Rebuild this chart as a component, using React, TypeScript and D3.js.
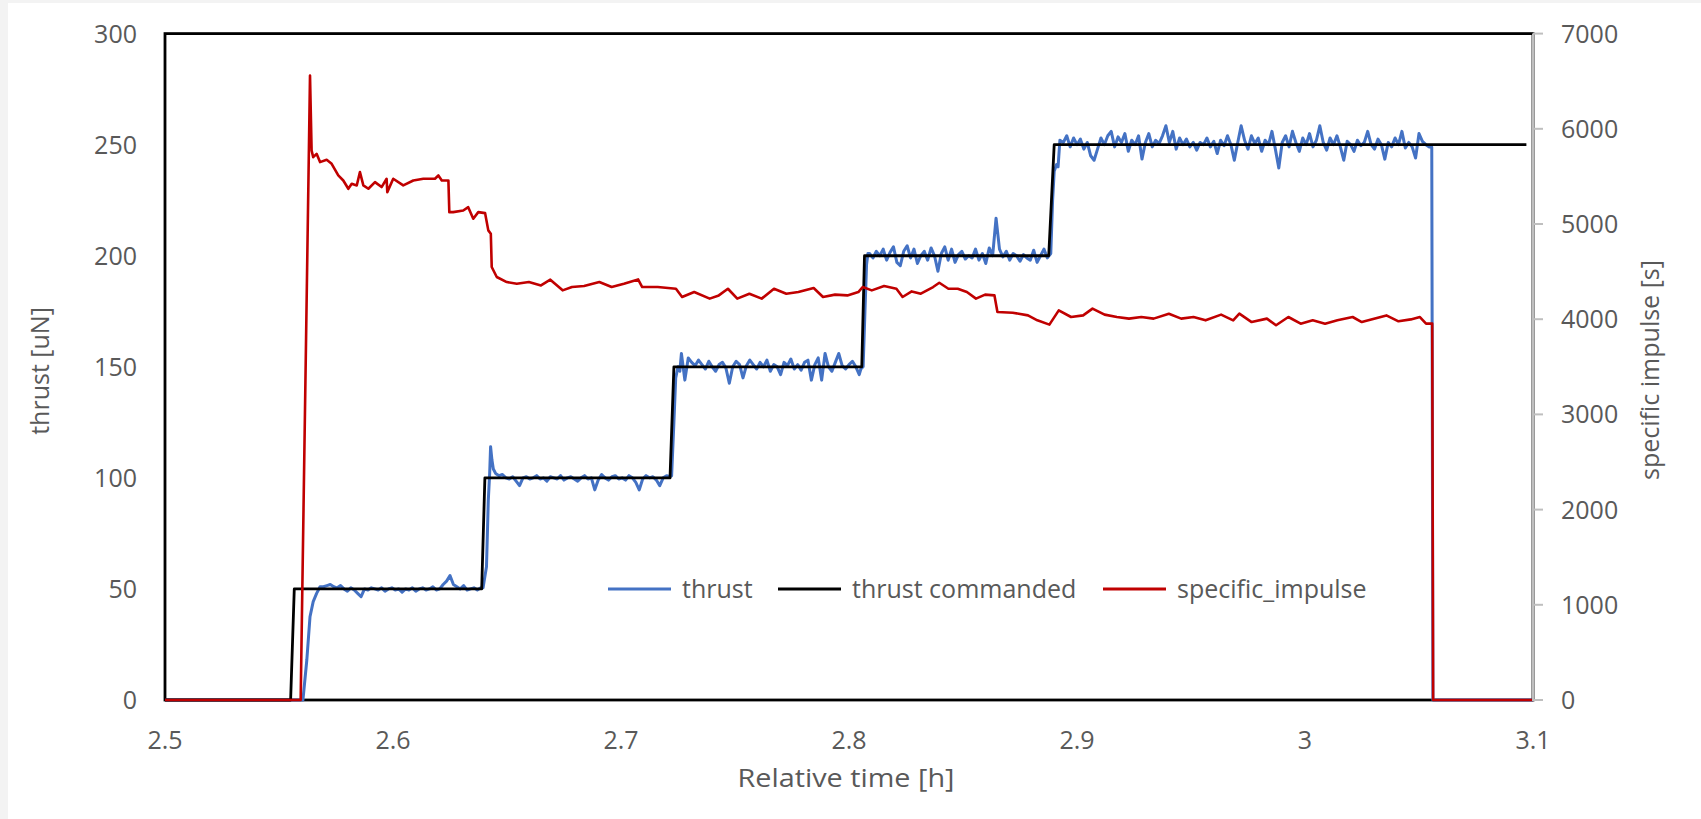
import React, { useRef, useEffect } from "react";
import * as d3 from "d3";

// axis ticks
const timeTicks = [2.5, 2.6, 2.7, 2.8, 2.9, 3, 3.1];
const thrustTicks = [0, 50, 100, 150, 200, 250, 300];
const ispTicks = [0, 1000, 2000, 3000, 4000, 5000, 6000, 7000];

// logger writes one thrust reading every SAMPLE_DT hours on the plateaus
const SAMPLE_DT = 0.0015;

// thrust commanded [h, uN]
const thrustCommanded: [number, number][] = [
  [2.5, 0], [2.5551, 0], [2.5567, 50], [2.6389, 50], [2.6403, 100], [2.7215, 100],
  [2.7232, 150], [2.8056, 150], [2.8068, 200], [2.8876, 200], [2.89, 250], [3.0971, 250],
];

// measured thrust - transitions as [h, uN]
const thrustStartup: [number, number][] = [
  [2.5, 0], [2.5605, 0], [2.5622, 18], [2.5636, 37.5], [2.565, 44.3], [2.5665, 48], [2.568, 51],
];
const thrustStep100: [number, number][] = [
  [2.6395, 50.5], [2.641, 60], [2.6418, 90], [2.6424, 102], [2.6428, 114], [2.6434, 108], [2.644, 104],
];
const thrustStep150: [number, number][] = [
  [2.7222, 101], [2.7232, 125], [2.724, 145], [2.725, 150], [2.7258, 148],
];
const thrustStep200: [number, number][] = [
  [2.8052, 149], [2.8062, 150], [2.807, 175], [2.8077, 196], [2.8083, 201],
];
const thrustStep250: [number, number][] = [
  [2.8885, 201], [2.8893, 225], [2.89, 238], [2.891, 241], [2.8917, 240],
];
const thrustShutdown: [number, number][] = [[3.0556, 249], [3.0561, 0], [3.1, 0]];

// measured thrust - plateau readings
const thrust50Start = 2.5695;
const thrust50 = [
  51, 51.5, 52, 51, 50.5, 51.5, 50, 49, 50.5, 49.5, 48, 46.5, 50, 49.5, 50.5, 50, 49.5, 50.5, 49, 50,
  50.5, 49.5, 50, 48.5, 50, 49.5, 50.5, 49, 50, 50.5, 49.5, 50, 51, 49.5, 50, 52, 53.5, 56, 52, 51,
  50, 51.5, 49.5, 50, 50.5, 49.5, 50.5,
];
const thrust100Start = 2.645;
const thrust100 = [
  102, 101, 101.5, 100, 99.5, 100.5, 98.5, 96.5, 100, 100.5, 99.5, 100, 101, 99.5, 100, 98.5, 100.5, 100,
  99.5, 101, 99, 100, 100.5, 99.5, 98.5, 100, 101, 99.5, 100, 94.6, 99, 101.5, 100, 99, 100.5, 101, 99.5,
  100, 99, 101, 100, 98, 94.6, 99.5, 101, 100, 100.5, 99, 96.5, 100, 101, 100.5,
];
const thrust150Start = 2.7265;
const thrust150 = [
  156, 144, 154, 152, 150.5, 153, 151, 149, 152.5, 150, 148, 151, 152, 149.5, 142.6, 150, 152.5, 151,
  145, 150.5, 153, 151, 149, 152, 150, 153, 148, 151, 150, 146.5, 152, 150.5, 153.5, 149, 151, 148.5,
  152, 153, 144, 151, 154, 144, 156, 150, 148, 152, 156, 150.5, 149, 151, 152.5, 150, 146.5,
];
const thrust200Start = 2.809;
const thrust200 = [
  201, 199, 202, 200, 203, 198, 201.5, 204, 197, 195.5, 202, 204.5, 199, 203, 196.5, 200, 202, 198,
  203.5, 200, 193, 201, 204, 198, 203, 197, 200.5, 202, 198.5, 200, 199, 203, 198, 201, 196.5, 203.5,
  200, 216.9, 203, 199.5, 202, 198, 201, 200, 197.5, 200.5, 199, 198, 202.5, 197, 200, 203, 199,
];
const thrust250Start = 2.8925;
const thrust250 = [
  252, 251, 254, 249, 253, 250, 252.5, 248, 251, 245, 243, 248, 253, 250, 254, 256, 249, 253.5, 251,
  255, 247, 252, 250, 254, 243.5, 251, 255, 249, 252, 250.5, 254, 258.5, 251, 256, 248, 253, 250,
  252.5, 249, 251, 247.5, 251, 250, 253, 249, 251.5, 246, 252, 249.5, 254, 250, 243, 251, 258.5, 252,
  248, 254, 250.5, 253, 247, 252, 250, 256, 248, 239.5, 251, 254, 249, 256, 251, 247, 253, 250, 255,
  249, 252, 258.5, 251, 247.5, 253, 250, 254, 249, 243, 251.5, 250, 247, 252, 249.5, 251, 256, 250,
  248, 252.5, 250, 243.5, 251, 249, 253, 250, 256, 248.5, 251, 249, 244, 255, 251.5, 250, 249,
];

// specific impulse [h, s]
const specificImpulse: [number, number][] = [
  [2.5, 0], [2.5595, 0], [2.5636, 6560], [2.5643, 5772], [2.565, 5702], [2.5665, 5737], [2.568, 5650],
  [2.5709, 5674], [2.5731, 5632], [2.576, 5510], [2.5782, 5457], [2.5804, 5370], [2.5819, 5422],
  [2.5841, 5405], [2.5855, 5545], [2.587, 5405], [2.5892, 5370], [2.5921, 5440], [2.595, 5388],
  [2.5972, 5475], [2.5975, 5335], [2.6001, 5475], [2.6045, 5405], [2.6089, 5457], [2.6133, 5475],
  [2.6184, 5475], [2.6199, 5510], [2.6214, 5457], [2.6243, 5457], [2.6247, 5125], [2.6264, 5125],
  [2.6308, 5142], [2.633, 5177], [2.6352, 5055], [2.6374, 5125], [2.6404, 5114], [2.6418, 4933],
  [2.6429, 4898], [2.6433, 4548], [2.6455, 4443], [2.6499, 4390], [2.6543, 4373], [2.6596, 4390],
  [2.6649, 4355], [2.669, 4415], [2.6744, 4303], [2.6785, 4338], [2.6838, 4348], [2.6905, 4390],
  [2.6959, 4338], [2.7013, 4373], [2.7075, 4418], [2.7093, 4338], [2.7161, 4338], [2.7241, 4320],
  [2.7268, 4233], [2.7321, 4285], [2.7389, 4216], [2.7429, 4250], [2.7469, 4320], [2.751, 4216],
  [2.7563, 4268], [2.7617, 4216], [2.7671, 4320], [2.7725, 4268], [2.7778, 4285], [2.7845, 4328],
  [2.7886, 4233], [2.7939, 4258], [2.7993, 4250], [2.8041, 4285], [2.806, 4338], [2.81, 4303],
  [2.8154, 4348], [2.8208, 4320], [2.8235, 4233], [2.8275, 4292], [2.8315, 4268], [2.8369, 4338],
  [2.8396, 4383], [2.8436, 4320], [2.8477, 4320], [2.8517, 4285], [2.8557, 4216], [2.8597, 4258],
  [2.8638, 4250], [2.8651, 4075], [2.8718, 4068], [2.8785, 4040], [2.8826, 3988], [2.8879, 3943],
  [2.892, 4093], [2.8974, 4023], [2.9027, 4040], [2.9068, 4111], [2.9121, 4048], [2.9175, 4023],
  [2.9228, 4006], [2.9282, 4023], [2.9336, 4006], [2.9403, 4058], [2.9457, 4006], [2.9511, 4023],
  [2.9564, 3988], [2.9632, 4048], [2.9685, 3988], [2.9712, 4058], [2.9766, 3970], [2.9833, 4006],
  [2.9873, 3936], [2.9927, 4023], [2.9981, 3953], [3.0034, 3988], [3.0088, 3953], [3.0142, 3988],
  [3.0209, 4023], [3.0249, 3970], [3.0303, 4006], [3.0357, 4040], [3.041, 3978], [3.0464, 3998],
  [3.0504, 4023], [3.0531, 3953], [3.0558, 3953], [3.0562, 0], [3.1, 0],
];

const legendItems = [
  { name: "thrust", color: "#4472C4" },
  { name: "thrust commanded", color: "#000000" },
  { name: "specific_impulse", color: "#C00000" },
];

function ThrustChart() {
  const svgRef = useRef<SVGSVGElement>(null);

  useEffect(() => {
    const width = 1701;
    const height = 819;
    const left = 165, right = 1533, top = 33.6, bottom = 700;
    const textColor = "#595959";
    const font = "'Open Sans', sans-serif";
    const fontSize = 25;

    // plateau readings -> [h, uN]
    const sampled = (t0: number, vals: number[]) =>
      vals.map((v, i) => [t0 + i * SAMPLE_DT, v] as [number, number]);

    const thrust = [
      ...thrustStartup,
      ...sampled(thrust50Start, thrust50),
      ...thrustStep100,
      ...sampled(thrust100Start, thrust100),
      ...thrustStep150,
      ...sampled(thrust150Start, thrust150),
      ...thrustStep200,
      ...sampled(thrust200Start, thrust200),
      ...thrustStep250,
      ...sampled(thrust250Start, thrust250),
      ...thrustShutdown,
    ];

    const x = d3.scaleLinear().domain([2.5, 3.1]).range([left, right]);
    const yL = d3.scaleLinear().domain([0, 300]).range([bottom, top]);
    const yR = d3.scaleLinear().domain([0, 7000]).range([bottom, top]);

    const svg = d3.select(svgRef.current)
      .attr("width", width)
      .attr("height", height)
      .style("display", "block");
    svg.selectAll("*").remove();

    svg.append("rect").attr("width", width).attr("height", height).attr("fill", "#F3F3F3");
    svg.append("rect").attr("x", 8).attr("y", 3).attr("width", width - 8).attr("height", height - 3).attr("fill", "#fff");

    // plot frame
    svg.append("rect")
      .attr("x", left).attr("y", top)
      .attr("width", right - left).attr("height", bottom - top)
      .attr("fill", "none").attr("stroke", "#000").attr("stroke-width", 2.8);

    // series
    const lineL = d3.line<[number, number]>().x(d => x(d[0])).y(d => yL(d[1]));
    const lineR = d3.line<[number, number]>().x(d => x(d[0])).y(d => yR(d[1]));

    svg.append("path").attr("d", lineL(thrust))
      .attr("fill", "none").attr("stroke", "#4472C4").attr("stroke-width", 3)
      .attr("stroke-linejoin", "round");
    svg.append("path").attr("d", lineL(thrustCommanded))
      .attr("fill", "none").attr("stroke", "#000").attr("stroke-width", 2.8)
      .attr("stroke-linejoin", "round");
    svg.append("path").attr("d", lineR(specificImpulse))
      .attr("fill", "none").attr("stroke", "#C00000").attr("stroke-width", 2.6)
      .attr("stroke-linejoin", "round");

    // secondary axis line + ticks
    svg.append("line")
      .attr("x1", right).attr("x2", right).attr("y1", top).attr("y2", bottom + 1)
      .attr("stroke", "#BFBFBF").attr("stroke-width", 2);
    svg.append("g").selectAll("line").data(ispTicks).join("line")
      .attr("x1", right).attr("x2", right + 10)
      .attr("y1", d => yR(d)).attr("y2", d => yR(d))
      .attr("stroke", "#BFBFBF").attr("stroke-width", 2);

    const txt = (g: any) => g.attr("fill", textColor).style("font-family", font).style("font-size", `${fontSize}px`);

    svg.append("g").selectAll("text").data(thrustTicks).join("text")
      .call(txt)
      .attr("x", 137).attr("y", d => yL(d) + 9)
      .attr("text-anchor", "end")
      .text(d => d);

    svg.append("g").selectAll("text").data(ispTicks).join("text")
      .call(txt)
      .attr("x", 1561).attr("y", d => yR(d) + 9)
      .text(d => d);

    svg.append("g").selectAll("text").data(timeTicks).join("text")
      .call(txt)
      .attr("x", d => x(d)).attr("y", 749)
      .attr("text-anchor", "middle")
      .text(d => d);

    // axis titles
    svg.append("text").call(txt)
      .attr("x", 846).attr("y", 787)
      .attr("text-anchor", "middle")
      .attr("textLength", 217).attr("lengthAdjust", "spacingAndGlyphs")
      .text("Relative time [h]");
    svg.append("text").call(txt)
      .attr("transform", `translate(49,371) rotate(-90)`)
      .attr("text-anchor", "middle")
      .text("thrust [uN]");
    svg.append("text").call(txt)
      .attr("transform", `translate(1659,370) rotate(-90)`)
      .attr("text-anchor", "middle")
      .text("specific impulse [s]");

    // legend
    const legendX = [608, 778, 1103];
    const legend = svg.append("g").selectAll("g").data(legendItems).join("g")
      .attr("transform", (d, i) => `translate(${legendX[i]},589)`);
    legend.append("line")
      .attr("x1", 0).attr("x2", 63)
      .attr("stroke", d => d.color).attr("stroke-width", 3);
    legend.append("text").call(txt)
      .attr("x", 74).attr("y", 8.5)
      .text(d => d.name);
  }, []);

  return <svg ref={svgRef}></svg>;
}

export default function App() {
  return (
    <div style={{ position: "absolute", left: 0, top: 0 }}>
      <ThrustChart />
    </div>
  );
}
